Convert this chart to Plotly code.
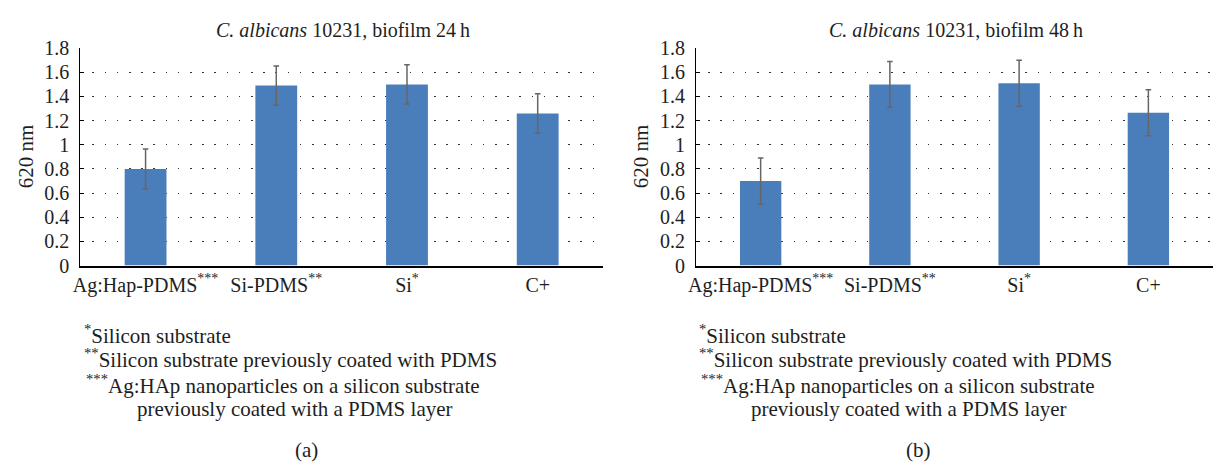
import plotly.graph_objects as go

categories = ["Ag:Hap-PDMS", "Si-PDMS", "Si", "C+"]
tick_labels = ["Ag:Hap-PDMS<sup>***</sup>", "Si-PDMS<sup>**</sup>", "Si<sup>*</sup>", "C+"]
values_24h = [0.80, 1.49, 1.50, 1.26]
errors_24h = [0.165, 0.162, 0.163, 0.162]
values_48h = [0.70, 1.50, 1.51, 1.265]
errors_48h = [0.19, 0.19, 0.19, 0.19]
titles = ["<i>C. albicans</i> 10231, biofilm 24\u2009h", "<i>C. albicans</i> 10231, biofilm 48\u2009h"]
y_ticks = [0, 0.2, 0.4, 0.6, 0.8, 1.0, 1.2, 1.4, 1.6, 1.8]
y_tick_text = ["0", "0.2", "0.4", "0.6", "0.8", "1", "1.2", "1.4", "1.6", "1.8"]
footnotes = [
    "<sup>*</sup>Silicon substrate",
    "<sup>**</sup>Silicon substrate previously coated with PDMS",
    "<sup>***</sup>Ag:HAp nanoparticles on a silicon substrate",
]
footnote_last = "previously coated with a PDMS layer"
panel_labels = ["(a)", "(b)"]

W, H = 1213, 471
FONT = "Liberation Serif"
BAR = "#4a7ebb"
TXT = "#1e1e1e"

fig = go.Figure()
for i, (vals, errs) in enumerate([(values_24h, errors_24h), (values_48h, errors_48h)]):
    fig.add_trace(go.Bar(
        x=categories, y=vals, width=0.32,
        marker=dict(color=BAR, line=dict(width=0)),
        error_y=dict(type="data", array=errs, visible=True, color="#666666", thickness=1.5, width=2.8),
        xaxis="x" if i == 0 else "x2", yaxis="y" if i == 0 else "y2",
        showlegend=False,
    ))

xdoms = [[72.7 / W, 599 / W], [692.6 / W, 1.0]]
ydom = [1 - 267 / H, 1 - 39 / H]
axis_common_x = dict(
    type="category", tickmode="array", tickvals=categories, ticktext=tick_labels,
    showline=True, linecolor="#000", linewidth=2, showgrid=False, ticks="",
    tickfont=dict(family=FONT, size=20, color=TXT), range=[-0.5, 3.5],
)
axis_common_y = dict(
    range=[0, 1.8], tickmode="array", tickvals=y_ticks, ticktext=y_tick_text,
    showline=True, linecolor="#000", linewidth=1, ticks="inside", ticklen=4, tickcolor="#000",
    showgrid=True, gridcolor="#333", gridwidth=1.3, griddash="1.5px,10.7px",
    zeroline=False, tickfont=dict(family=FONT, size=20, color=TXT), ticklabelstandoff=6,
)
fig.update_layout(
    width=W, height=H, margin=dict(l=0, r=0, t=0, b=0),
    paper_bgcolor="white", plot_bgcolor="white",
    font=dict(family=FONT),
    xaxis=dict(domain=xdoms[0], anchor="y", **axis_common_x),
    yaxis=dict(domain=ydom, anchor="x", **axis_common_y),
    xaxis2=dict(domain=xdoms[1], anchor="y2", **axis_common_x),
    yaxis2=dict(domain=ydom, anchor="x2", **axis_common_y),
    bargap=0.68,
)

def px(x):
    return x / W

def py(y):
    return 1 - y / H

ann = []
title_cx = [337, 954]
ytitle_cx = [19, 638]
fn_x = [[74.6, 74.6, 76.5], [693.8, 693.8, 695.8]]
fn_last_cx = [288.5, 907]
lab_cx = [300, 917]
fn_y = [339, 365, 391.7]
for p in range(2):
    ann.append(dict(text=titles[p], x=px(title_cx[p]), y=py(20), xanchor="center", yanchor="middle",
                    font=dict(family=FONT, size=20, color=TXT)))
    ann.append(dict(text="620 nm", x=px(ytitle_cx[p]), y=py(152.5), xanchor="center", yanchor="middle",
                    textangle=-90, font=dict(family=FONT, size=21, color=TXT)))
    for k in range(3):
        ann.append(dict(text=footnotes[k], x=px(fn_x[p][k]), y=py(fn_y[k]), xanchor="left", yanchor="middle",
                        font=dict(family=FONT, size=21, color=TXT)))
    ann.append(dict(text=footnote_last, x=px(fn_last_cx[p]), y=py(418), xanchor="center", yanchor="middle",
                    font=dict(family=FONT, size=21, color=TXT)))
    ann.append(dict(text=panel_labels[p], x=px(lab_cx[p]), y=py(460), xanchor="center", yanchor="middle",
                    font=dict(family=FONT, size=21, color=TXT)))
for a in ann:
    a.update(xref="paper", yref="paper", showarrow=False)
fig.update_layout(annotations=ann)

fig.write_html("out.html")
